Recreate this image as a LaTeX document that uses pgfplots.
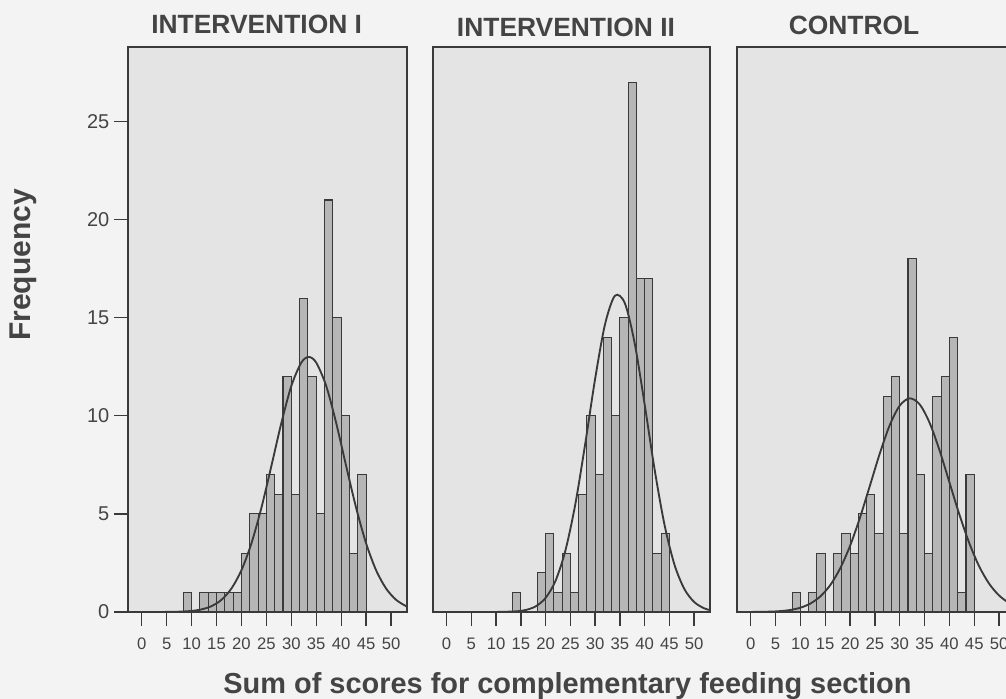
\documentclass[border=0pt]{standalone}
\usepackage{fontspec}
\setmainfont{Liberation Sans}
\usepackage{pgfplots}
\pgfplotsset{compat=1.18}
\definecolor{bg}{HTML}{F3F3F3}
\definecolor{panel}{HTML}{E4E4E4}
\definecolor{barfill}{HTML}{B6B6B6}
\definecolor{ink}{HTML}{3A3A3A}
\definecolor{txt}{HTML}{444444}

\pgfplotsset{
  hist/.style={
    scale only axis,
    height=423.75pt,
    xmin=-2.75, xmax=53.2, ymin=0, ymax=28.8,
    axis background/.style={fill=panel},
    axis line style={ink, line width=1.1pt},
    xtick={0,5,...,50},
    tick align=outside,
    xtick pos=bottom,
    ytick pos=left,
    major tick length=10.5pt,
    tick style={ink, line width=1pt},
    xticklabel style={font=\fontsize{12.5}{12.5}\selectfont, text=txt,
      anchor=north, text height=9pt, text depth=0pt, yshift=-5pt},
    yticklabel style={font=\fontsize{15}{15}\selectfont, text=txt},
    /pgf/number format/assume math mode=true,
  },
  bars/.style={ybar interval, fill=barfill, draw=ink, line width=0.8pt},
  curve/.style={smooth, no marks, draw=ink, line width=1.4pt},
}

\begin{document}
\begin{tikzpicture}
\path[use as bounding box] (0,0) rectangle (754.5pt,524.25pt);
\clip (0,0) rectangle (754.5pt,524.25pt);
\fill[bg] (0,0) rectangle (754.5pt,524.25pt);

% Panel 1: INTERVENTION I
\begin{axis}[hist, at={(96pt,65.25pt)}, anchor=south west, width=209.25pt,
  ytick={0,5,10,15,20,25}]
\addplot[bars] coordinates {
(8.333,1) (10,0) (11.667,1) (13.333,1) (15,1) (16.667,1) (18.333,1)
(20,3) (21.667,5) (23.333,5) (25,7) (26.667,6) (28.333,12) (30,6)
(31.667,16) (33.333,12) (35,5) (36.667,21) (38.333,15) (40,10)
(41.667,3) (43.333,7) (45,0)};
\addplot[curve] coordinates {
(-2.75,0) (0,0) (5,0.004) (8,0.021) (10,0.054) (12,0.133) (14,0.299)
(16,0.623) (18,1.20) (20,2.13) (22,3.50) (24,5.31) (26,7.44) (28,9.63)
(30,11.52) (32,12.71) (33.5,13.0) (35,12.71) (37,11.52) (39,9.63)
(41,7.44) (43,5.31) (45,3.50) (47,2.13) (49,1.20) (51,0.623)
(53,0.299) (53.2,0.28)};
\end{axis}

% Panel 2: INTERVENTION II
\begin{axis}[hist, at={(324.75pt,65.25pt)}, anchor=south west, width=207.75pt,
  ytick=\empty]
\addplot[bars] coordinates {
(13.333,1) (15,0) (16.667,0) (18.333,2) (20,4) (21.667,1) (23.333,3)
(25,1) (26.667,6) (28.333,10) (30,7) (31.667,14) (33.333,10) (35,15)
(36.667,27) (38.333,17) (40,17) (41.667,3) (43.333,4) (45,0)};
\addplot[curve] coordinates {
(-2.75,0) (6,0) (10,0.002) (14,0.033) (16,0.103) (18,0.289) (20,0.72)
(22,1.59) (24,3.14) (26,5.50) (28,8.58) (30,11.89) (32,14.67)
(34,16.12) (36,15.74) (38,13.68) (40,10.58) (42,7.28)
(44,4.46) (46,2.43) (48,1.18) (50,0.51) (52,0.19) (53.2,0.10)};
\end{axis}

% Panel 3: CONTROL
\begin{axis}[hist, at={(552.75pt,65.25pt)}, anchor=south west, width=208.5pt,
  ytick=\empty]
\addplot[bars] coordinates {
(8.333,1) (10,0) (11.667,1) (13.333,3) (15,0) (16.667,3) (18.333,4)
(20,3) (21.667,5) (23.333,6) (25,4) (26.667,11) (28.333,12) (30,4)
(31.667,18) (33.333,7) (35,3) (36.667,11) (38.333,12) (40,14)
(41.667,1) (43.333,7) (45,0)};
\addplot[curve] coordinates {
(-2.75,0) (0,0.002) (4,0.0195) (6,0.046) (8,0.104) (10,0.218) (12,0.429)
(14,0.79) (16,1.366) (18,2.217) (20,3.37) (22,4.81) (24,6.44)
(26,8.09) (28,9.53) (30,10.52) (32,10.89) (34,10.59) (36,9.65)
(38,8.25) (40,6.61) (42,4.97) (44,3.51) (46,2.32) (48,1.44)
(50,0.84) (52,0.457) (53.2,0.31)};
\end{axis}

% Titles and labels
\node[anchor=base, text=txt, font=\fontsize{19.8}{19.8}\selectfont\bfseries] at (192.5pt,499.3pt) {INTERVENTION I};
\node[anchor=base, text=txt, font=\fontsize{19.8}{19.8}\selectfont\bfseries] at (424.5pt,497pt) {INTERVENTION II};
\node[anchor=base, text=txt, font=\fontsize{19.8}{19.8}\selectfont\bfseries] at (640.5pt,498pt) {CONTROL};
\node[anchor=base, rotate=90, text=txt, font=\fontsize{22.5}{22.5}\selectfont\bfseries] at (22.5pt,325.5pt) {Frequency};
\node[anchor=base, text=txt, font=\fontsize{21.7}{21.7}\selectfont\bfseries] at (425.6pt,4pt) {Sum of scores for complementary feeding section};
\end{tikzpicture}
\end{document}
